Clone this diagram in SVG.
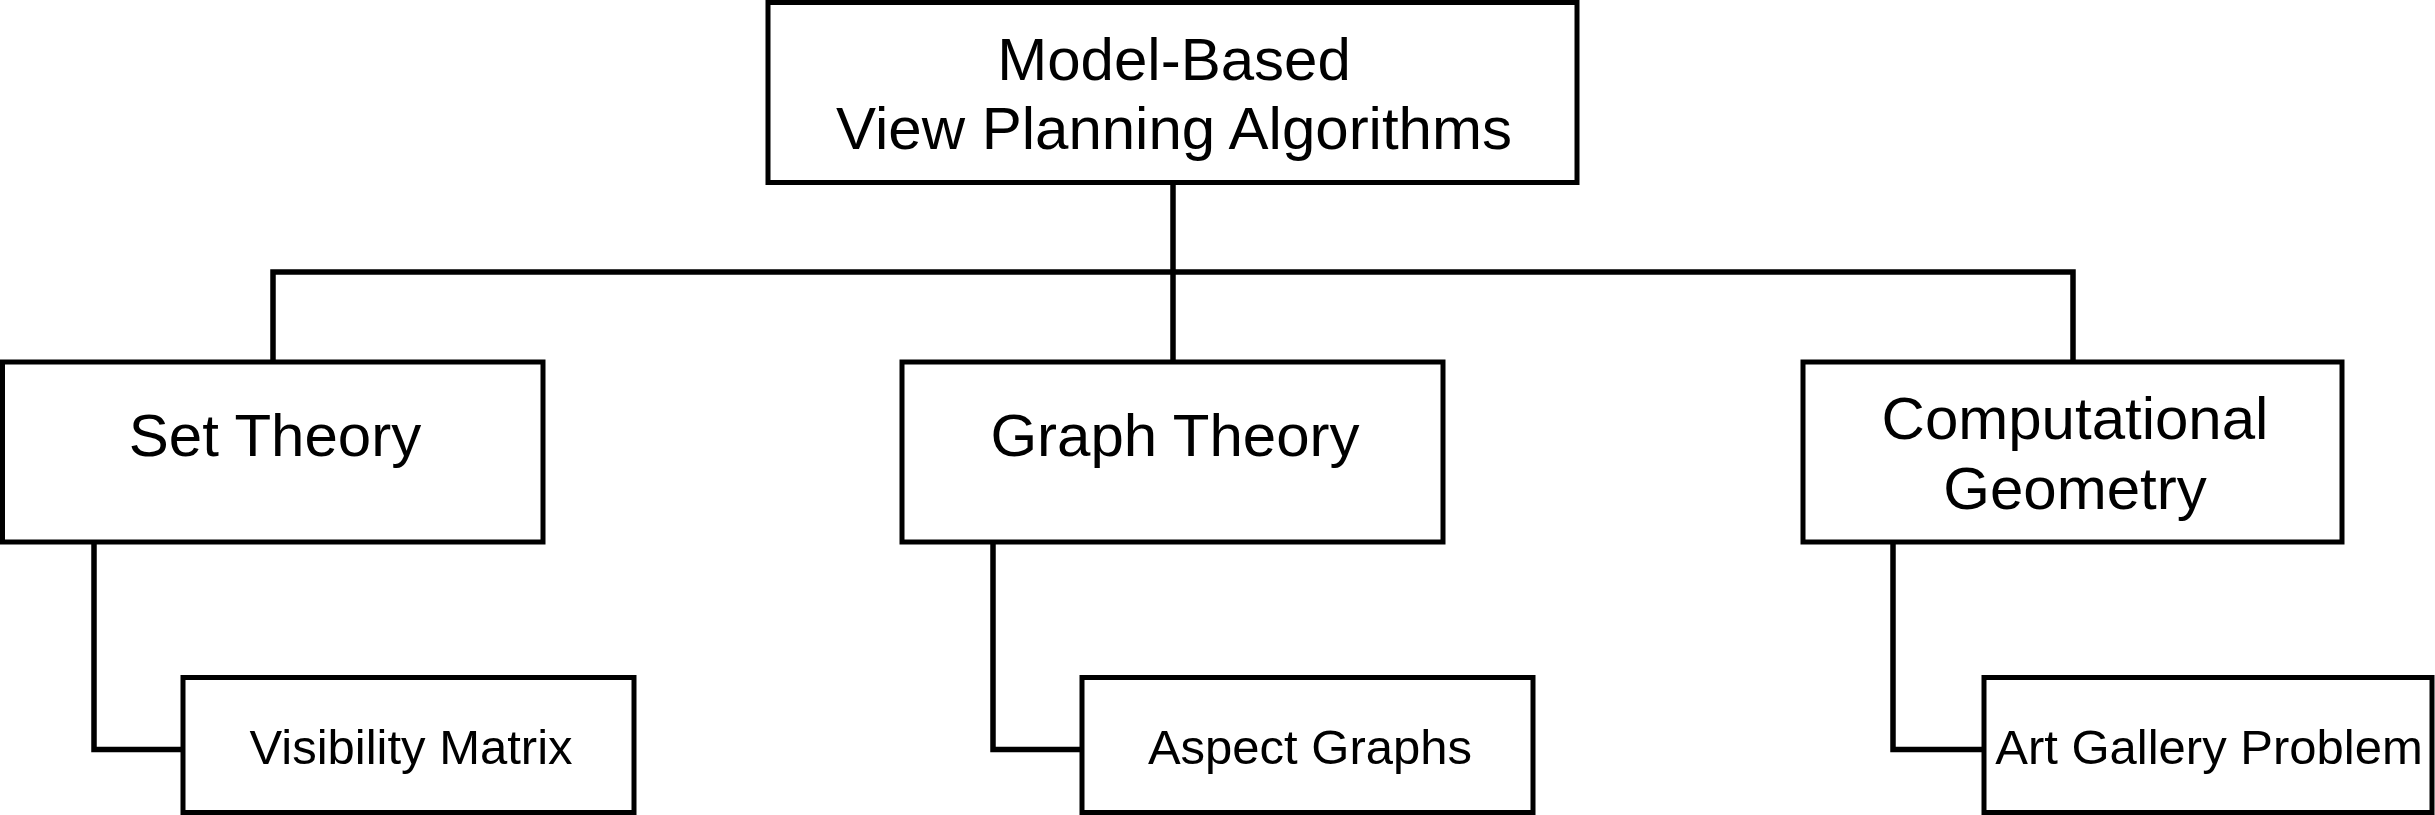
<svg xmlns="http://www.w3.org/2000/svg" width="2435" height="815" viewBox="0 0 2435 815">
<style>
.box{fill:#fff;stroke:#000;stroke-width:5}
.conn{fill:none;stroke:#000;stroke-width:5.5;stroke-linejoin:miter;stroke-linecap:butt}
.t{font-family:"Liberation Sans",Arial,Helvetica,sans-serif;fill:#000;text-anchor:middle}
.main{font-size:60px}
.leaf{font-size:49px}
</style>
<rect width="2435" height="815" fill="#fff"/>
<g id="connectors">
<path class="conn" d="M1173,182 V362"/>
<path class="conn" d="M273,362 V272 H2073 V362"/>
<path class="conn" d="M94,542 V749.5 H184"/>
<path class="conn" d="M993,542 V749.5 H1083"/>
<path class="conn" d="M1893,542 V749.5 H1985"/>
</g>
<g id="root">
<rect class="box" x="768" y="2.5" width="809" height="180"/>
<text class="t main" x="1174" y="80">Model-Based</text>
<text class="t main" x="1174" y="149">View Planning Algorithms</text>
</g>
<g id="set-theory">
<rect class="box" x="2.5" y="362" width="540.5" height="180"/>
<text class="t main" x="275" y="456">Set Theory</text>
</g>
<g id="graph-theory">
<rect class="box" x="902" y="362" width="541" height="180"/>
<text class="t main" x="1175" y="456">Graph Theory</text>
</g>
<g id="computational-geometry">
<rect class="box" x="1803" y="362" width="539" height="180"/>
<text class="t main" x="2075" y="439">Computational</text>
<text class="t main" x="2075" y="509">Geometry</text>
</g>
<g id="visibility-matrix">
<rect class="box" x="183" y="677.5" width="451" height="135"/>
<text class="t leaf" x="411" y="764">Visibility Matrix</text>
</g>
<g id="aspect-graphs">
<rect class="box" x="1082" y="677.5" width="451" height="135"/>
<text class="t leaf" x="1310" y="764">Aspect Graphs</text>
</g>
<g id="art-gallery-problem">
<rect class="box" x="1984" y="677.5" width="448" height="135"/>
<text class="t leaf" x="2209" y="764">Art Gallery Problem</text>
</g>
</svg>
